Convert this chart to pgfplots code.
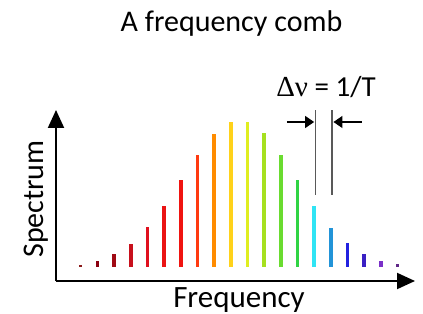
\documentclass[border=0pt]{standalone}
\usepackage{pgfplots}
\pgfplotsset{compat=1.18}
\usetikzlibrary{arrows.meta}
\usepackage{fontspec}
\setmainfont{Carlito}
\newfontfamily\serifgreek{Liberation Serif}
\definecolor{c0}{HTML}{8B1A1A}
\definecolor{c1}{HTML}{8B0010}
\definecolor{c2}{HTML}{A00A14}
\definecolor{c3}{HTML}{C8101C}
\definecolor{c4}{HTML}{E0101E}
\definecolor{c5}{HTML}{EA1414}
\definecolor{c6}{HTML}{F01410}
\definecolor{c7}{HTML}{FF3A10}
\definecolor{c8}{HTML}{FF8C00}
\definecolor{c9}{HTML}{FFD21A}
\definecolor{c10}{HTML}{E0EE20}
\definecolor{c11}{HTML}{A6E020}
\definecolor{c12}{HTML}{6ADC30}
\definecolor{c13}{HTML}{30D444}
\definecolor{c14}{HTML}{30E4F4}
\definecolor{c15}{HTML}{2294D8}
\definecolor{c16}{HTML}{2222E0}
\definecolor{c17}{HTML}{3A20C4}
\definecolor{c18}{HTML}{7A30C8}
\definecolor{c19}{HTML}{602888}
\begin{document}
\begin{tikzpicture}[x=1bp,y=1bp]
\path[use as bounding box] (0,0) rectangle (423,314);
\begin{axis}[at={(56bp,33bp)}, anchor=south west, scale only axis,
  width=359bp, height=171bp,
  xmin=-1.48, xmax=20.05, ymin=-14, ymax=157,
  axis lines=left,
  axis line style={line width=2bp, black, -{Triangle[length=18bp,width=16bp]}},
  xtick=\empty, ytick=\empty, clip=false]
\addplot[ycomb, no marks, line width=3.6bp, c0] coordinates {(0,2)};
\addplot[ycomb, no marks, line width=3.6bp, c1] coordinates {(1,5.7)};
\addplot[ycomb, no marks, line width=3.6bp, c2] coordinates {(2,12.7)};
\addplot[ycomb, no marks, line width=3.6bp, c3] coordinates {(3,23.3)};
\addplot[ycomb, no marks, line width=3.6bp, c4] coordinates {(4,39.7)};
\addplot[ycomb, no marks, line width=3.6bp, c5] coordinates {(5,61)};
\addplot[ycomb, no marks, line width=3.6bp, c6] coordinates {(6,86.7)};
\addplot[ycomb, no marks, line width=3.6bp, c7] coordinates {(7,112)};
\addplot[ycomb, no marks, line width=3.6bp, c8] coordinates {(8,133.3)};
\addplot[ycomb, no marks, line width=3.6bp, c9] coordinates {(9,145)};
\addplot[ycomb, no marks, line width=3.6bp, c10] coordinates {(10,145.3)};
\addplot[ycomb, no marks, line width=3.6bp, c11] coordinates {(11,133.7)};
\addplot[ycomb, no marks, line width=3.6bp, c12] coordinates {(12,112)};
\addplot[ycomb, no marks, line width=3.6bp, c13] coordinates {(13,87)};
\addplot[ycomb, no marks, line width=3.6bp, c14] coordinates {(14,61.3)};
\addplot[ycomb, no marks, line width=3.6bp, c15] coordinates {(15,39.3)};
\addplot[ycomb, no marks, line width=3.6bp, c16] coordinates {(16,23.7)};
\addplot[ycomb, no marks, line width=3.6bp, c17] coordinates {(17,12.7)};
\addplot[ycomb, no marks, line width=3.6bp, c18] coordinates {(18,6)};
\addplot[ycomb, no marks, line width=3.6bp, c19] coordinates {(19,2.7)};
\draw[gray!70!black, line width=1.6bp] (axis cs:14.08,72) -- (axis cs:14.08,157);
\draw[gray!70!black, line width=1.6bp] (axis cs:15.08,72) -- (axis cs:15.08,157);
\draw[line width=1.3bp, -{Triangle[length=9bp,width=12bp]}] (axis cs:12.36,145) -- (axis cs:14.0,145);
\draw[line width=1.3bp, -{Triangle[length=9bp,width=12bp]}] (axis cs:16.86,145) -- (axis cs:15.16,145);
\end{axis}
\node[anchor=base, font=\fontsize{30bp}{36bp}\selectfont, inner sep=0pt] at (231.5,282.3) {A frequency comb};
\node[anchor=base, font=\fontsize{31bp}{37bp}\selectfont, inner sep=0pt] at (239,6.3) {Frequency};
\node[anchor=base, rotate=90, font=\fontsize{30bp}{36bp}\selectfont, inner sep=0pt] at (43,115) {Spectrum};
\node[anchor=base, font=\fontsize{29bp}{35bp}\selectfont, inner sep=0pt] at (326,218) {{\serifgreek Δν} = 1/T};
\end{tikzpicture}
\end{document}
